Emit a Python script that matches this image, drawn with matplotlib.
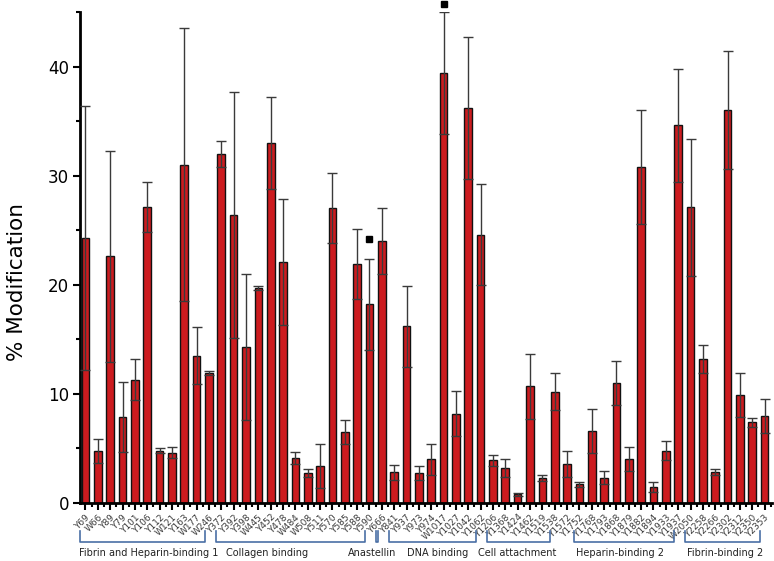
import matplotlib
matplotlib.use("Agg")
import matplotlib.pyplot as plt
import numpy as np
from matplotlib.ticker import MultipleLocator

sites = ["Y69", "W66", "Y89", "Y79", "Y101", "Y106", "Y112", "W121", "Y163", "W177", "W246",
         "Y372", "Y392", "Y398", "W445", "Y452", "Y478", "W484", "W508", "Y511", "Y570", "Y585", "Y588", "Y590",
         "Y666",
         "Y841", "Y937", "Y973", "Y974", "W1017", "Y1027", "Y1042", "Y1062",
         "Y1206", "Y1368", "Y1424", "Y1462", "Y1519", "Y1538", "Y1572",
         "Y1752", "Y1768", "Y1793", "Y1868", "Y1879", "Y1882", "Y1894", "Y1933", "Y1937",
         "W2050", "Y2258", "Y2266", "Y2302", "Y2312", "Y2350", "Y2353"]

modification = [24.25, 4.8, 22.6, 7.9, 11.3, 27.1, 4.8, 4.6, 31.0, 13.5, 11.9,
                32.0, 26.4, 14.3, 19.7, 33.0, 22.1, 4.16, 2.75, 3.4, 27.0, 6.5, 21.9, 18.2,
                24.0,
                2.8, 16.2, 2.75, 4.0, 39.4, 8.2, 36.2, 24.6,
                3.9, 3.2, 0.8, 10.7, 2.3, 10.2, 3.6,
                1.7, 6.6, 2.3, 11.0, 4.0, 30.8, 1.5, 4.8, 34.6,
                27.1, 13.2, 2.85, 36.0, 9.9, 7.4, 7.95]

error = [12.1, 1.1, 9.7, 3.2, 1.9, 2.3, 0.2, 0.5, 12.5, 2.6, 0.2,
         1.2, 11.3, 6.7, 0.2, 4.2, 5.8, 0.55, 0.4, 2.0, 3.2, 1.1, 3.2, 4.2,
         3.0,
         0.7, 3.7, 0.65, 1.4, 5.6, 2.1, 6.5, 4.6,
         0.5, 0.8, 0.15, 3.0, 0.3, 1.7, 1.2,
         0.2, 2.0, 0.6, 2.0, 1.1, 5.2, 0.45, 0.9, 5.2,
         6.3, 1.3, 0.25, 5.4, 2.0, 0.4, 1.55]

# significance markers: (site, height)
markers = [("Y590", 24.2), ("W1017", 45.7)]

# domain groups: (name, first site, last site)
groups = [("Fibrin and Heparin-binding 1", "Y69", "W246"),
          ("Collagen binding", "Y372", "Y590"),
          ("Anastellin", "Y666", "Y666"),
          ("DNA binding", "Y841", "Y1062"),
          ("Cell attachment", "Y1206", "Y1538"),
          ("Heparin-binding 2", "Y1752", "Y1937"),
          ("Fibrin-binding 2", "W2050", "Y2353")]
# label centre offsets relative to bracket centre (in bar units)
label_shift = [0.5, -1.9, -0.4, 0.4, -0.1, -0.3, 0.2]

fig = plt.figure(figsize=(7.74, 5.61), dpi=100)
ax = fig.add_axes([80/774, 58/561, 692/774, 491/561])

x = np.arange(len(sites))
ax.bar(x, modification, width=0.62, color="#cc1b1f", edgecolor="#111111", linewidth=1.0, zorder=2)
ax.errorbar(x, modification, yerr=error, fmt="none", ecolor="#3a3a3a", elinewidth=1.0,
            capsize=3.5, capthick=1.0, zorder=3)

for s, h in markers:
    ax.plot(sites.index(s), h, marker="s", color="black", markersize=5, clip_on=False, zorder=4)

ax.set_xlim(-0.445, 55.6)
ax.set_ylim(0, 45)
ax.spines["top"].set_visible(False)
ax.spines["right"].set_visible(False)
ax.spines["left"].set_linewidth(2)
ax.spines["bottom"].set_linewidth(2)

ax.yaxis.set_major_locator(MultipleLocator(10))
ax.yaxis.set_minor_locator(MultipleLocator(5))
ax.tick_params(axis="y", which="major", length=5, width=1.5, labelsize=12, pad=3)
ax.tick_params(axis="y", which="minor", length=3, width=1.5)

ax.set_xticks(x)
ax.set_xticks(x + 0.5, minor=True)
ax.set_xticklabels(sites, rotation=45, ha="right", rotation_mode="anchor", fontsize=6.5, color="#3a3a3a")
ax.tick_params(axis="x", which="major", length=5, width=1.5, pad=2)
ax.tick_params(axis="x", which="minor", length=3, width=1.5)

ax.set_ylabel("% Modification", fontsize=15.5, labelpad=8)
ax.yaxis.set_label_coords(-0.076, 0.45)

trans = ax.get_xaxis_transform()
bcol = "#4a6fa5"
ybot = -0.0795
ytop = -0.057
for (name, a, b), sh in zip(groups, label_shift):
    i0 = sites.index(a) - 0.45
    i1 = sites.index(b) - 0.35
    ax.plot([i0, i0, i1, i1], [ytop, ybot, ybot, ytop], color=bcol, linewidth=1.2,
            transform=trans, clip_on=False)
    ax.text((i0 + i1) / 2 + sh, ybot - 0.013, name, transform=trans, ha="center", va="top",
            fontsize=7, color="#222222")

fig.savefig("out.png", dpi=100)
